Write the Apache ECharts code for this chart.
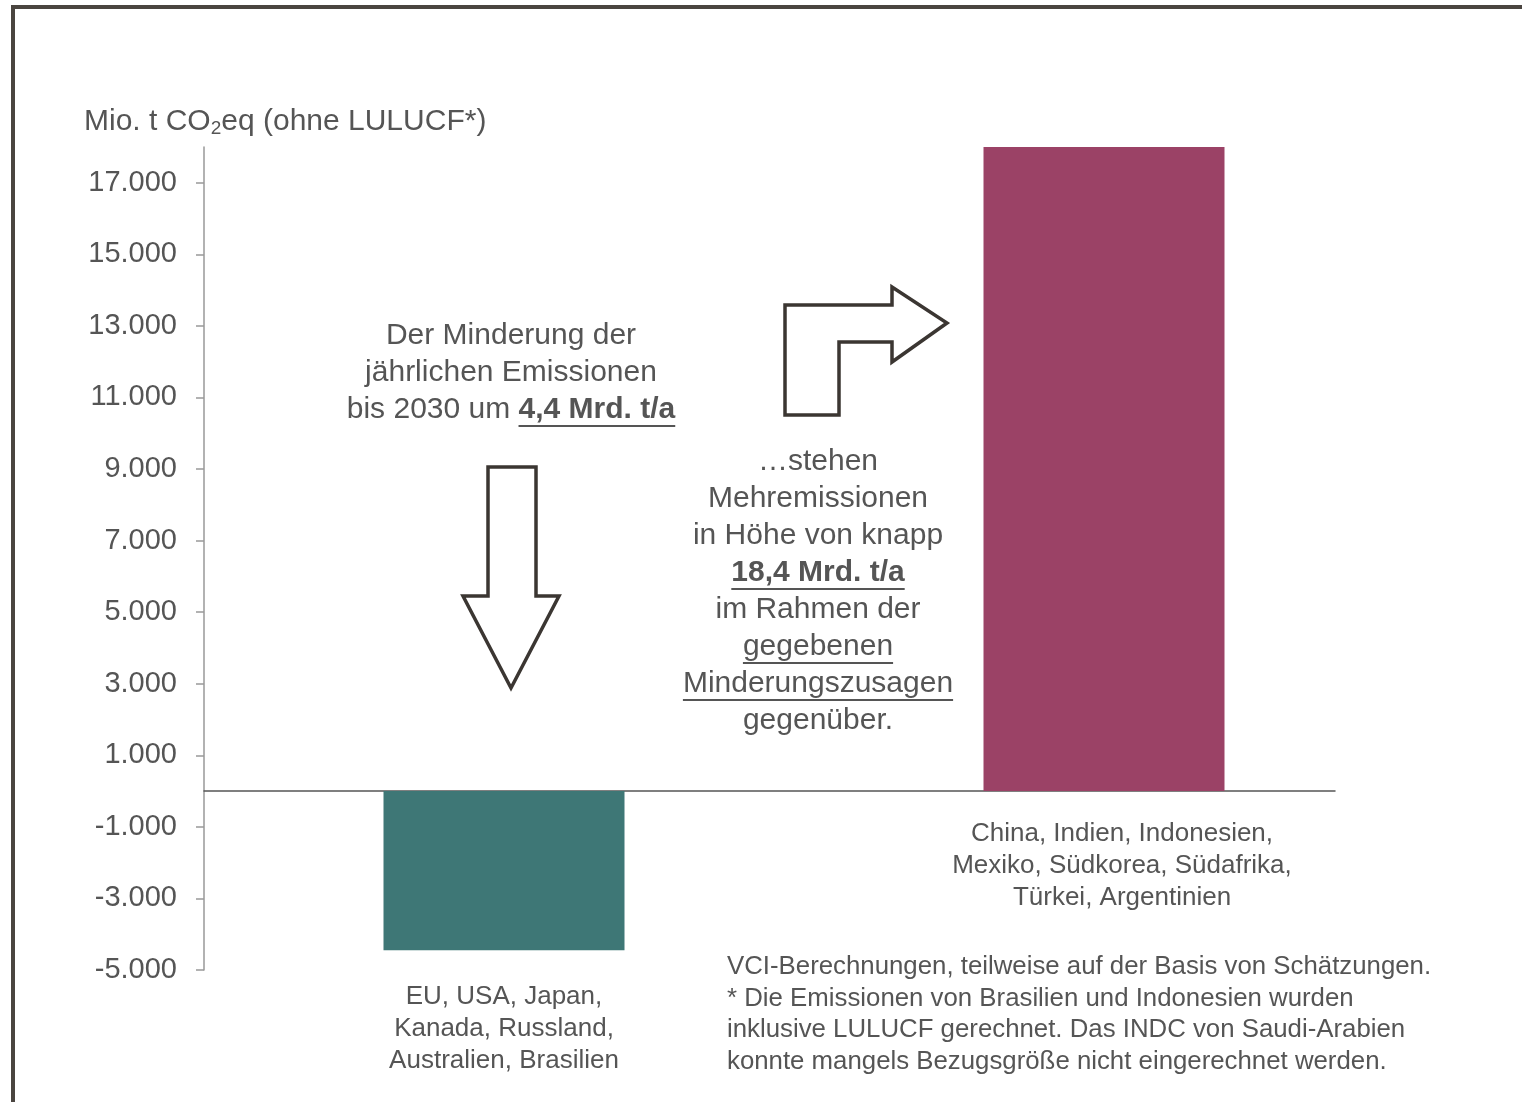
<!DOCTYPE html>
<html>
<head>
<meta charset="utf-8">
<script src="https://cdn.jsdelivr.net/npm/echarts@6/dist/echarts.min.js"></script>
<style>
html,body{margin:0;padding:0;background:#fff;}
#c{width:1522px;height:1102px;}
</style>
</head>
<body>
<div id="c"></div>
<script>
// ---- data ----
const groups = ['EU, USA, Japan,\nKanada, Russland,\nAustralien, Brasilien',
                'China, Indien, Indonesien,\nMexiko, Südkorea, Südafrika,\nTürkei, Argentinien'];
const slots = [0.5, 1.5];            // x-positions of the two groups on the value x-axis
const values = [-4450, 18000];       // Mio. t CO2eq
const barColors = ['#3e7776', '#9b4266'];
const yTicks = [-5000, -3000, -1000, 1000, 3000, 5000, 7000, 9000, 11000, 13000, 15000, 17000];
const footnote = ['VCI-Berechnungen, teilweise auf der Basis von Schätzungen.',
                  '* Die Emissionen von Brasilien und Indonesien wurden',
                  'inklusive LULUCF gerechnet. Das INDC von Saudi-Arabien',
                  'konnte mangels Bezugsgröße nicht eingerechnet werden.'];

const FONT = '"Liberation Sans", Arial, sans-serif';
const TXT = '#555555';

function fmt(v){ return String(v).replace(/\B(?=(\d{3})+(?!\d))/g, '.'); }

const cv = document.createElement('canvas').getContext('2d');
function tw(s, bold, size){ cv.font = (bold ? 'bold ' : '') + size + 'px ' + FONT; return cv.measureText(s).width; }

const AS = 30; // annotation font size
const graphics = [];
graphics.push({type:'rect', shape:{x:13, y:7, width:1700, height:1300}, style:{fill:'none', stroke:'#4a4540', lineWidth:4}, z:100});

function addLine(cx, cy, parts){
  let total = 0; parts.forEach(p => { p.w = tw(p.t, p.b, AS); total += p.w; });
  let rich = '';
  parts.forEach(p => { rich += '{' + (p.b ? 'b' : 'n') + '|' + p.t + '}'; });
  graphics.push({type:'text', x:cx, y:cy, style:{text:rich, align:'center', verticalAlign:'middle',
    rich:{n:{fontSize:AS, fontFamily:FONT, fill:TXT}, b:{fontSize:AS, fontFamily:FONT, fontWeight:'bold', fill:TXT}}}});
  let x = cx - total/2;
  parts.forEach(p => {
    if (p.u) graphics.push({type:'line', shape:{x1:x, y1:cy+16, x2:x+p.w, y2:cy+16}, style:{stroke:TXT, lineWidth:2}});
    x += p.w;
  });
}
addLine(511, 336, [{t:'Der Minderung der'}]);
addLine(511, 373, [{t:'jährlichen Emissionen'}]);
addLine(511, 410, [{t:'bis 2030 um '}, {t:'4,4 Mrd. t/a', b:true, u:true}]);

const b2 = [[{t:'…stehen'}], [{t:'Mehremissionen'}], [{t:'in Höhe von knapp'}],
  [{t:'18,4 Mrd. t/a', b:true, u:true}], [{t:'im Rahmen der'}], [{t:'gegebenen', u:true}],
  [{t:'Minderungszusagen', u:true}], [{t:'gegenüber.'}]];
b2.forEach((l, i) => addLine(818, 462 + i*37, l));

// arrows
graphics.push({type:'polygon', shape:{points:[[488,467],[536,467],[536,596],[559,596],[511,688],[463,596],[488,596]]},
  style:{fill:'#fff', stroke:'#3b3632', lineWidth:3.5}});
graphics.push({type:'polygon', shape:{points:[[785,415],[785,305],[892,305],[892,287],[947,323],[892,362],[892,342],[839,342],[839,415]]},
  style:{fill:'#fff', stroke:'#3b3632', lineWidth:3.5}});

// footnote
graphics.push({type:'text', left:727, top:951, style:{text:footnote.join('\n'), fontSize:25.8, lineHeight:31.7, fontFamily:FONT, fill:TXT}});

const chart = echarts.init(document.getElementById('c'), null, {renderer:'canvas'});
chart.setOption({
  backgroundColor:'#ffffff',
  animation:false,
  title:{
    left:84, top:104, padding:0,
    text:'{a|Mio. t CO}{s|2}{a|eq (ohne LULUCF*)}',
    textStyle:{fontWeight:'normal', rich:{
      a:{fontSize:30, fontWeight:'normal', fontFamily:FONT, color:TXT, lineHeight:36},
      s:{fontSize:19, fontWeight:'normal', fontFamily:FONT, color:TXT, lineHeight:36, padding:[14,0,0,0]}
    }}
  },
  grid:{left:204, right:187, top:147, bottom:132, containLabel:false},
  xAxis:{
    type:'value', min:0, max:1131/600,
    axisLine:{show:true, onZero:true, lineStyle:{color:'#555', width:1.5}},
    axisTick:{show:false}, axisLabel:{show:false}, splitLine:{show:false}
  },
  yAxis:{
    type:'value', min:-5000, max:18000,
    axisLine:{show:true, lineStyle:{color:'#999', width:1.5}},
    axisTick:{show:true, length:8, inside:false, customValues:yTicks, lineStyle:{color:'#999', width:1.5}},
    axisLabel:{show:true, customValues:yTicks, margin:27, formatter:fmt, fontSize:29, fontFamily:FONT, color:TXT},
    splitLine:{show:false}
  },
  series:[{
    type:'bar',
    barWidth:241,
    data: values.map((v, i) => ({
      value:[slots[i], v],
      itemStyle:{color:barColors[i]},
      label:{show:true, position:'bottom', distance: i === 0 ? 31 : 27, offset: i === 0 ? [0,0] : [18,0],
        formatter: groups[i], fontSize:26, lineHeight:32, fontFamily:FONT, color:TXT, align:'center'}
    }))
  }],
  graphic: graphics
});
</script>
</body>
</html>
